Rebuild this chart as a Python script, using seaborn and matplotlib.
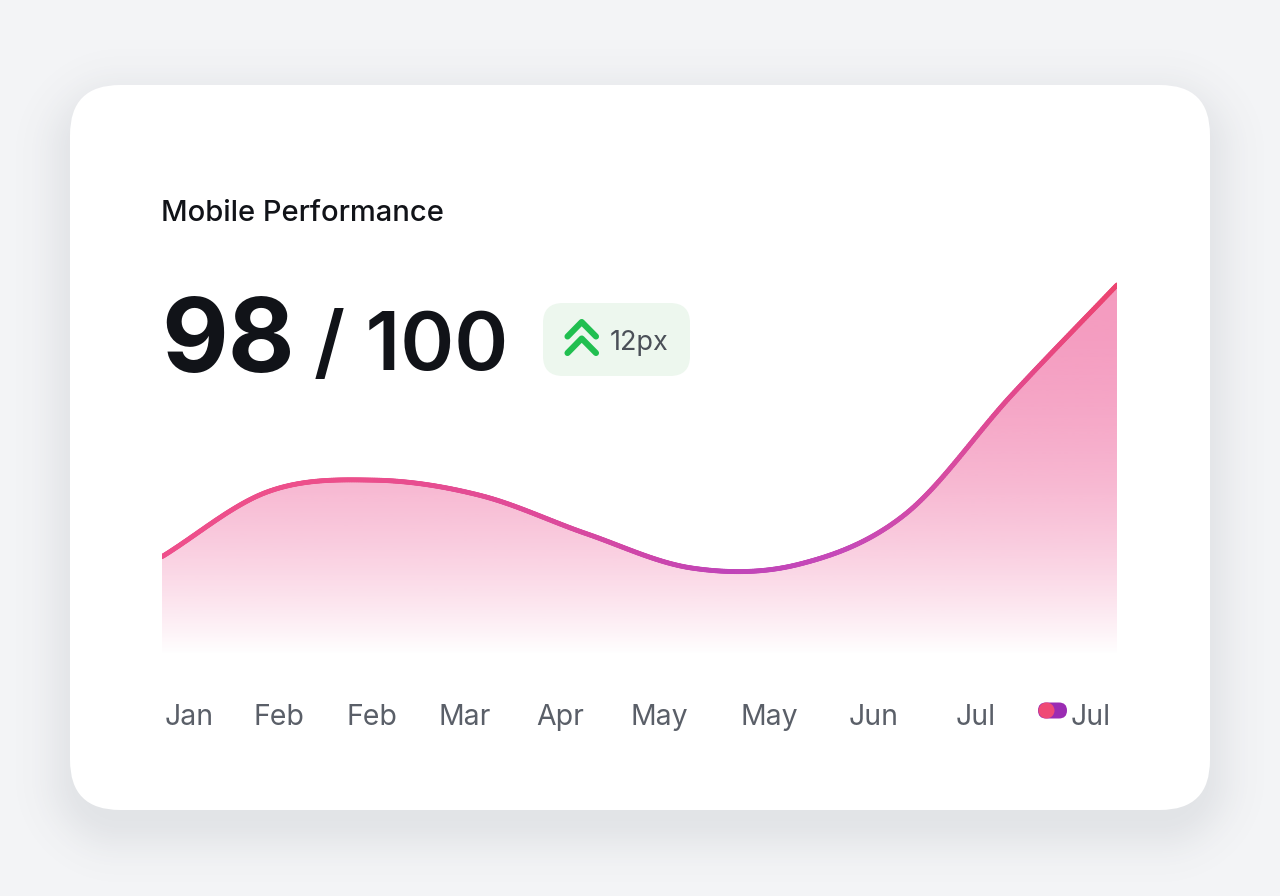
import numpy as np
import pandas as pd
import matplotlib
matplotlib.use("Agg")
import matplotlib.pyplot as plt
import seaborn as sns
from matplotlib.collections import LineCollection
from matplotlib.colors import LinearSegmentedColormap, to_rgb
from matplotlib.patches import FancyBboxPatch, PathPatch, Circle

# --- data ---
months = ["Jan", "Feb", "Feb", "Mar", "Apr", "May", "May", "Jun", "Jul", "Jul"]
scores = [27, 44, 47, 43, 33, 24, 25, 38, 69, 98]
title = "Mobile Performance"
score_now = "98"
score_max = "/ 100"
delta_label = "12px"

# where the month labels sit (in x index units), the card layout is pixel based
label_pos = [0.26, 1.10, 1.98, 2.85, 3.75, 4.69, 5.72, 6.71, 7.67, 8.75]

W, H, DPI = 1280, 896, 100

sns.set_theme(style="white")
plt.rcParams["font.family"] = ["Inter", "DejaVu Sans"]


def smooth_curve(x, y, n=60):
    """catmull-rom style cubic, only used to draw the smooth line between the points"""
    x = np.asarray(x, float)
    y = np.asarray(y, float)
    h = np.diff(x)
    m = np.zeros_like(y)
    m[1:-1] = (y[2:] - y[:-2]) / (x[2:] - x[:-2])
    m[0] = (y[1] - y[0]) / h[0]
    m[-1] = (y[-1] - y[-2]) / h[-1]
    xs, ys = [], []
    for i in range(len(x) - 1):
        t = np.linspace(0, 1, n, endpoint=(i == len(x) - 2))
        h00 = 2 * t**3 - 3 * t**2 + 1
        h10 = t**3 - 2 * t**2 + t
        h01 = -2 * t**3 + 3 * t**2
        h11 = t**3 - t**2
        xs.append(x[i] + t * h[i])
        ys.append(h00 * y[i] + h10 * h[i] * m[i] + h01 * y[i + 1] + h11 * h[i] * m[i + 1])
    return np.concatenate(xs), np.concatenate(ys)


fig = plt.figure(figsize=(W / DPI, H / DPI), dpi=DPI)
fig.patch.set_facecolor("#f3f4f6")

# background layer in pixel coordinates: shadow, card, header texts, badge
bg = fig.add_axes([0, 0, 1, 1], zorder=0)
bg.set_xlim(0, W)
bg.set_ylim(H, 0)
bg.set_axis_off()
bg.set_facecolor("#f3f4f6")

cx0, cy0, cw, ch, rad = 70, 85, 1140, 725, 50
gx, gy = np.meshgrid(np.arange(W) + 0.5, np.arange(H) + 0.5)
off = 18
qx = np.abs(gx - (cx0 + cw / 2)) - (cw / 2 - rad)
qy = np.abs(gy - (cy0 + ch / 2 + off)) - (ch / 2 - rad)
dist = np.hypot(np.maximum(qx, 0), np.maximum(qy, 0)) + np.minimum(np.maximum(qx, qy), 0) - rad
shadow_a = 0.10 * np.exp(-np.clip(dist + 12, 0, None) ** 2 / (2 * 26.0 ** 2))
shadow = np.zeros((H, W, 4))
shadow[..., :3] = to_rgb("#4b5563")
shadow[..., 3] = shadow_a
bg.imshow(shadow, extent=[0, W, H, 0], zorder=1, interpolation="bilinear")

card = FancyBboxPatch((cx0, cy0), cw, ch, boxstyle=f"round,pad=0,rounding_size={rad}",
                      facecolor="white", edgecolor="none", zorder=2)
bg.add_patch(card)

bg.text(161, 221, title, fontsize=21, fontweight="medium", color="#111318",
        va="baseline", ha="left", zorder=3)
bg.text(161, 372, score_now, fontsize=74, fontweight="bold", color="#111318",
        va="baseline", ha="left", zorder=3)
bg.text(314, 370, score_max, fontsize=59, fontweight="semibold", color="#111318",
        va="baseline", ha="left", zorder=3)

badge = FancyBboxPatch((543, 303), 147, 73, boxstyle="round,pad=0,rounding_size=20",
                       facecolor="#edf7ee", edgecolor="none", zorder=3)
bg.add_patch(badge)
for dy in (0, 16.5):
    bg.plot([567.5, 581.7, 596], [336.5 + dy, 322 + dy, 336.5 + dy], color="#21bf50",
            lw=4.4, solid_capstyle="round", solid_joinstyle="round", zorder=4)
bg.text(610, 350, delta_label, fontsize=19.5, color="#4b5058", va="baseline",
        ha="left", zorder=4)

# legend swatch before the last label: purple pill with a pink dot on its left half
pill = FancyBboxPatch((1038, 702.5), 29, 16, boxstyle="round,pad=0,rounding_size=8",
                      facecolor="#9b2cb3", edgecolor="none", zorder=4)
bg.add_patch(pill)
bg.add_patch(Circle((1046.5, 710.5), 8, facecolor="#ef4a76", edgecolor="none", zorder=5))

# chart layer
x_idx = np.arange(len(scores))
ax = fig.add_axes([162 / W, (H - 660) / H, 955 / W, (660 - 277.3) / H], zorder=2)
ax.set_facecolor("none")
ax.set_xlim(0, len(scores) - 1)
ax.set_ylim(0, 100)

sx, sy = smooth_curve(x_idx, scores)
df = pd.DataFrame({"x": sx, "score": sy})
sns.lineplot(data=df, x="x", y="score", ax=ax, color="#e14b96", lw=3, sort=False, zorder=3)

# gradient fill under the curve
poly = ax.fill_between(sx, sy, 0, color="none", lw=0)
clip = PathPatch(poly.get_paths()[0], transform=ax.transData, facecolor="none", edgecolor="none")
ax.add_patch(clip)
vv = np.linspace(0, 100, 400)
ypx = 660 - vv * (660 - 277.3) / 100
t = np.clip((ypx - 285) / (655 - 285), 0, 1)
grad = np.zeros((len(vv), 1, 4))
grad[..., :3] = to_rgb("#ec4a8c")
grad[:, 0, 3] = 0.55 * (1 - t**2)
im = ax.imshow(grad, extent=[0, len(scores) - 1, 0, 100], origin="lower", aspect="auto",
               zorder=1, interpolation="bilinear")
im.set_clip_path(clip)

# line with a horizontal colour gradient
line_cmap = LinearSegmentedColormap.from_list(
    "perf", [(0, "#ee4f8b"), (0.2, "#ec4f8b"), (0.4, "#de4a9a"), (0.59, "#c044b8"),
             (0.72, "#c649b8"), (0.83, "#d84ca0"), (0.93, "#e84882"), (1, "#ec4470")])
pts = np.column_stack([sx, sy]).reshape(-1, 1, 2)
segs = np.concatenate([pts[:-1], pts[1:]], axis=1)
lc = LineCollection(segs, colors=line_cmap(sx[:-1] / sx.max()), linewidths=3.5,
                    capstyle="round", zorder=4)
ax.add_collection(lc)

ax.set_xticks([])
ax.set_yticks([])
ax.set_xlabel("")
ax.set_ylabel("")
sns.despine(ax=ax, left=True, bottom=True)

for pos, lab in zip(label_pos, months):
    ax.text(pos, -0.1698, lab, transform=ax.get_xaxis_transform(), fontsize=20.5,
            color="#5a5f68", ha="center", va="baseline", clip_on=False)

fig.savefig("out.png", dpi=DPI, facecolor=fig.get_facecolor())
